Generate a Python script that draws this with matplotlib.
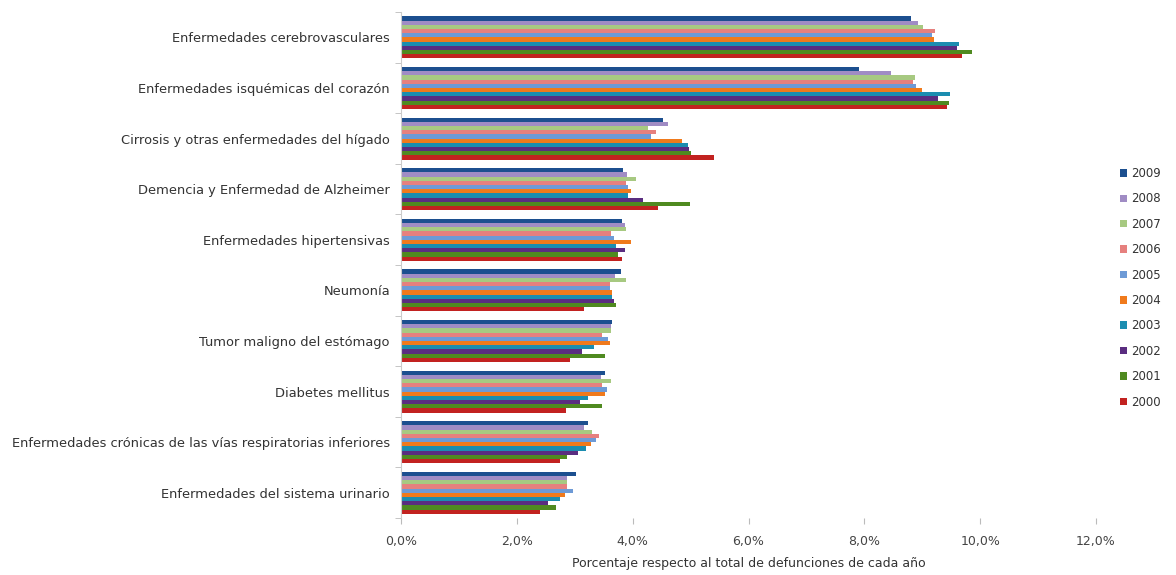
import numpy as np
import matplotlib.pyplot as plt
from matplotlib.ticker import FuncFormatter

plt.rcParams["font.family"] = "DejaVu Sans"

# Data (percentage of total deaths each year)
causes = [
    "Enfermedades cerebrovasculares",
    "Enfermedades isquémicas del corazón",
    "Cirrosis y otras enfermedades del hígado",
    "Demencia y Enfermedad de Alzheimer",
    "Enfermedades hipertensivas",
    "Neumonía",
    "Tumor maligno del estómago",
    "Diabetes mellitus",
    "Enfermedades crónicas de las vías respiratorias inferiores",
    "Enfermedades del sistema urinario",
]
years = ["2009", "2008", "2007", "2006", "2005", "2004", "2003", "2002", "2001", "2000"]

v2009 = [8.81, 7.90, 4.53, 3.84, 3.82, 3.80, 3.64, 3.53, 3.23, 3.02]
v2008 = [8.92, 8.46, 4.61, 3.91, 3.86, 3.69, 3.62, 3.46, 3.16, 2.87]
v2007 = [9.01, 8.87, 4.26, 4.06, 3.88, 3.88, 3.62, 3.62, 3.29, 2.87]
v2006 = [9.22, 8.84, 4.41, 3.89, 3.62, 3.60, 3.47, 3.47, 3.42, 2.87]
v2005 = [9.17, 8.89, 4.32, 3.92, 3.67, 3.60, 3.57, 3.56, 3.37, 2.97]
v2004 = [9.20, 8.99, 4.85, 3.97, 3.97, 3.64, 3.60, 3.53, 3.28, 2.83]
v2003 = [9.64, 9.48, 4.95, 3.92, 3.72, 3.64, 3.33, 3.22, 3.20, 2.74]
v2002 = [9.60, 9.27, 4.98, 4.18, 3.87, 3.67, 3.13, 3.09, 3.05, 2.54]
v2001 = [9.86, 9.46, 5.00, 4.99, 3.75, 3.72, 3.53, 3.47, 2.87, 2.67]
v2000 = [9.69, 9.42, 5.41, 4.44, 3.82, 3.16, 2.91, 2.84, 2.74, 2.40]
series = [v2009, v2008, v2007, v2006, v2005, v2004, v2003, v2002, v2001, v2000]

colors = ["#1c4f8f", "#a08cc4", "#a7c981", "#e6807e", "#6d9ad6",
          "#f07a1c", "#1b8db0", "#5a2d80", "#4f8a20", "#c22220"]

fig = plt.figure(figsize=(11.76, 5.75), dpi=100)
ax = fig.add_axes([0.341, 0.099, 0.591, 0.880])

y = np.arange(len(causes))
h = 0.083
for j, (vals, c, yr) in enumerate(zip(series, colors, years)):
    ax.barh(y + (j - 4.5) * h, vals, height=h, color=c, label=yr, linewidth=0)

ax.set_ylim(len(causes) - 0.5, -0.5)
ax.set_xlim(0, 12)
ax.set_xticks(np.arange(0, 13, 2))
ax.xaxis.set_major_formatter(FuncFormatter(lambda v, p: f"{v:.1f}%".replace(".", ",")))
ax.set_yticks(y)
ax.set_yticklabels(causes)
ax.set_yticks(np.arange(-0.5, len(causes)), minor=True)
ax.tick_params(axis="y", which="major", length=0, pad=8, labelsize=9.4, labelcolor="#333333")
ax.tick_params(axis="y", which="minor", length=4, color="#bbbbbb")
ax.tick_params(axis="x", length=4, color="#bbbbbb", labelsize=9, labelcolor="#444444", pad=8)

for s in ["top", "right", "bottom"]:
    ax.spines[s].set_visible(False)
ax.spines["left"].set_color("#cccccc")

ax.set_xlabel("Porcentaje respecto al total de defunciones de cada año",
              fontsize=9, color="#333333", labelpad=7)

fig.legend(loc="upper left", bbox_to_anchor=(0.943, 0.728), frameon=False,
           fontsize=8.5, handlelength=0.6, handleheight=0.6, handletextpad=0.4,
           labelspacing=1.05, labelcolor="#333333")

plt.savefig("out.png")
